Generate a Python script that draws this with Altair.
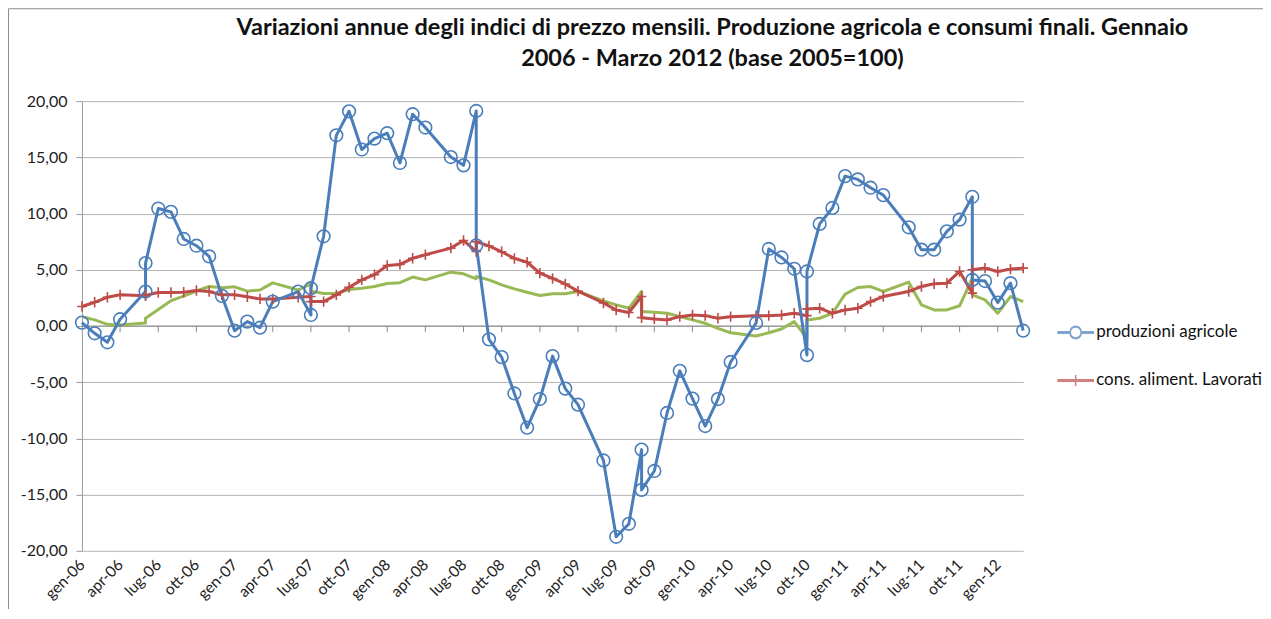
import json
import altair as alt
import pandas as pd

# ---------------- data ----------------
# month index: 0 = gen-06 ... 74 = mar-12 (the source series repeat / skip some months)
month_idx = [0, 1, 2, 3, 5, 5, 6, 7, 8, 9, 10, 11, 12, 13, 14, 15, 17, 18, 18, 19,
             20, 21, 22, 23, 24, 25, 26, 27, 29, 30, 31, 31, 32, 33, 34, 35, 36, 37, 38, 39,
             41, 42, 43, 44, 44, 45, 46, 47, 48, 49, 50, 51, 53, 54, 55, 56, 57, 57, 58, 59,
             60, 61, 62, 63, 65, 66, 67, 68, 69, 70, 70, 71, 72, 73, 74]

produzioni_agricole = [0.30, -0.65, -1.45, 0.60, 3.06, 5.60, 10.45, 10.15, 7.74, 7.14,
                       6.19, 2.68, -0.42, 0.39, -0.15, 2.17, 3.06, 0.98, 3.36, 7.98,
                       16.96, 19.10, 15.70, 16.67, 17.15, 14.50, 18.84, 17.65, 15.03, 14.29,
                       19.13, 7.17, -1.19, -2.77, -6.00, -9.05, -6.50, -2.68, -5.57, -7.00,
                       -11.96, -18.75, -17.60, -11.00, -14.58, -12.90, -7.74, -3.99, -6.46, -8.90,
                       -6.50, -3.20, 0.27, 6.85, 6.10, 5.09, -2.59, 4.85, 9.08, 10.50,
                       13.33, 13.04, 12.30, 11.64, 8.78, 6.79, 6.79, 8.42, 9.46, 11.49,
                       4.10, 4.00, 2.08, 3.81, -0.42]

cons_aliment_lavorati = [1.73, 2.11, 2.56, 2.77, 2.68, 2.72, 2.98, 2.98, 3.00, 3.15,
                         3.07, 2.77, 2.77, 2.60, 2.41, 2.41, 2.56, 2.62, 2.17, 2.17,
                         2.77, 3.45, 4.10, 4.57, 5.38, 5.48, 6.02, 6.34, 6.93, 7.60,
                         6.63, 7.50, 7.12, 6.60, 6.01, 5.67, 4.70, 4.23, 3.74, 3.10,
                         2.05, 1.43, 1.20, 2.62, 0.74, 0.63, 0.54, 0.83, 0.98, 0.92,
                         0.69, 0.83, 0.92, 0.92, 0.98, 1.13, 0.92, 1.52, 1.58, 1.13,
                         1.43, 1.58, 2.17, 2.62, 3.07, 3.51, 3.75, 3.81, 4.85, 2.92,
                         5.00, 5.15, 4.85, 5.06, 5.15]

terza_serie = [0.83, 0.54, 0.15, 0.09, 0.27, 0.69, 1.46, 2.25, 2.65, 3.11,
               3.51, 3.41, 3.48, 3.10, 3.20, 3.84, 3.20, 3.74, 3.10, 2.89,
               2.89, 3.24, 3.36, 3.51, 3.78, 3.85, 4.35, 4.10, 4.79, 4.64,
               4.20, 4.40, 4.10, 3.66, 3.30, 3.00, 2.71, 2.86, 2.86, 3.07,
               2.23, 1.88, 1.58, 3.07, 1.28, 1.22, 1.13, 0.83, 0.54, 0.24,
               -0.21, -0.60, -0.89, -0.60, -0.27, 0.39, -1.10, 0.54, 0.69, 1.13,
               2.83, 3.42, 3.51, 3.07, 3.90, 1.88, 1.43, 1.43, 1.80, 4.26,
               2.77, 2.32, 1.13, 2.62, 2.17]

tick_labels = ["gen-06", "apr-06", "lug-06", "ott-06", "gen-07", "apr-07", "lug-07", "ott-07",
               "gen-08", "apr-08", "lug-08", "ott-08", "gen-09", "apr-09", "lug-09", "ott-09",
               "gen-10", "apr-10", "lug-10", "ott-10", "gen-11", "apr-11", "lug-11", "ott-11",
               "gen-12"]
tick_months = list(range(0, 73, 3))
y_ticks = [-20, -15, -10, -5, 0, 5, 10, 15, 20]

s_blue = "produzioni agricole"
s_red = "cons. aliment. Lavorati"
s_green = "serie 3"
legend_series = [s_blue, s_red]

title_lines = ["Variazioni annue degli indici di prezzo mensili. Produzione agricola e consumi finali. Gennaio",
               "2006 - Marzo 2012 (base 2005=100)"]

# ---------------- tables ----------------
rows = []
for name, vals in [(s_blue, produzioni_agricole), (s_red, cons_aliment_lavorati), (s_green, terza_serie)]:
    for i, (m, v) in enumerate(zip(month_idx, vals)):
        rows.append({"series": name, "m": m, "v": v, "ord": i})
df = pd.DataFrame(rows)
zero_df = pd.DataFrame({"v": [0]})
ticks_df = pd.DataFrame({"m": tick_months[1:], "v": [0] * len(tick_months[1:])})

BLUE = "#4a7ebb"
RED = "#be4b48"
GREEN = "#98b954"
FONT = "Lato"

x_label_expr = json.dumps(tick_labels) + "[round(datum.value / 3)]"
y_label_expr = "(datum.value < 0 ? '-' : '') + replace(format(abs(datum.value), '.2f'), '.', ',')"

x_enc = alt.X("m:Q", scale=alt.Scale(domain=[0, 74], nice=False, zero=False),
              axis=alt.Axis(values=tick_months, labelExpr=x_label_expr, labelAngle=-45,
                            labelAlign="right", labelBaseline="middle",
                            domain=False, ticks=False, grid=False, labelPadding=11,
                            labelFont=FONT, labelFontSize=15.5, labelColor="#222222",
                            labelOverlap=False, title=None))
y_enc = alt.Y("v:Q", scale=alt.Scale(domain=[-20, 20], nice=False),
              axis=alt.Axis(values=y_ticks, labelExpr=y_label_expr, grid=True,
                            gridColor="#b4b4b4", gridWidth=1, domainColor="#9a9a9a",
                            tickColor="#9a9a9a", tickSize=6, labelPadding=9,
                            labelFont=FONT, labelFontSize=16, labelColor="#222222",
                            title=None))

base = alt.Chart(df)

frame = alt.Chart(pd.DataFrame({"a": [0]})).mark_rect(
    fill="transparent", stroke="#8c8c8c", strokeWidth=1).encode(
    x=alt.value(-73.5), y=alt.value(-92.5), x2=alt.value(1400), y2=alt.value(700))

zero_line = alt.Chart(zero_df).mark_rule(color="#8c8c8c", strokeWidth=1).encode(y=y_enc)

zero_ticks = alt.Chart(ticks_df).mark_rule(color="#8c8c8c", strokeWidth=1).encode(
    x=x_enc, y=y_enc, y2=alt.datum(-0.55))


def line(name, color):
    return base.transform_filter(alt.datum.series == name).mark_line(
        color=color, strokeWidth=3, strokeJoin="round").encode(
        x=x_enc, y=y_enc, order="ord:Q")


green_line = line(s_green, GREEN)
red_line = line(s_red, RED)
blue_line = line(s_blue, BLUE)

PLUS = "M-1,0H1M0,-1.1V1.1"
red_pts = base.transform_filter(alt.datum.series == s_red).mark_point(
    shape=PLUS, size=90, color=RED, strokeWidth=1.6, filled=False, opacity=1).encode(x=x_enc, y=y_enc)
blue_pts = base.transform_filter(alt.datum.series == s_blue).mark_point(
    shape="circle", size=160, color=BLUE, strokeWidth=1.6, filled=False, opacity=1).encode(x=x_enc, y=y_enc)

LEG_BLUE = "M-3.2,-0.14H-1A1,1,0,0,1,1,-0.14H3.2V0.14H1A1,1,0,0,1,-1,0.14H-3.2ZM-1,0A1,1,0,1,1,1,0A1,1,0,1,1,-1,0"
LEG_RED = "M-3.2,-0.14H3.2V0.14H-3.2ZM0,-1V1"
leg = alt.Legend(orient="none", legendX=986, legendY=223, title=None,
                 labelFont=FONT, labelFontSize=17, labelColor="#111111", labelLimit=400,
                 symbolSize=121, symbolStrokeWidth=1.5,
                 symbolFillColor="transparent", labelOffset=12,
                 rowPadding=29, padding=0)
legend_layer = alt.Chart(pd.DataFrame({"series": legend_series})).transform_filter("false").mark_point(
    filled=False, strokeWidth=1.5).encode(
    color=alt.Color("series:N", scale=alt.Scale(domain=legend_series, range=[BLUE, RED]), legend=leg),
    shape=alt.Shape("series:N", scale=alt.Scale(domain=legend_series, range=[LEG_BLUE, LEG_RED]), legend=leg),
    x=alt.value(0), y=alt.value(0))

chart = alt.layer(
    frame, zero_line, zero_ticks, green_line, red_line, blue_line, red_pts, blue_pts, legend_layer
).properties(
    width=942, height=450,
    autosize=alt.AutoSizeParams(type="none"),
    padding={"left": 74, "top": 93, "right": 240, "bottom": 58},
    title=alt.Title(text=title_lines, anchor="middle", frame="group", dx=160, offset=-62,
                    font=FONT, fontSize=23.5, fontWeight="bold", color="#111111", lineHeight=31),
).configure(background="white").configure_view(stroke=None)

chart.save("out.html", embed_options={"renderer": "svg", "actions": False})
